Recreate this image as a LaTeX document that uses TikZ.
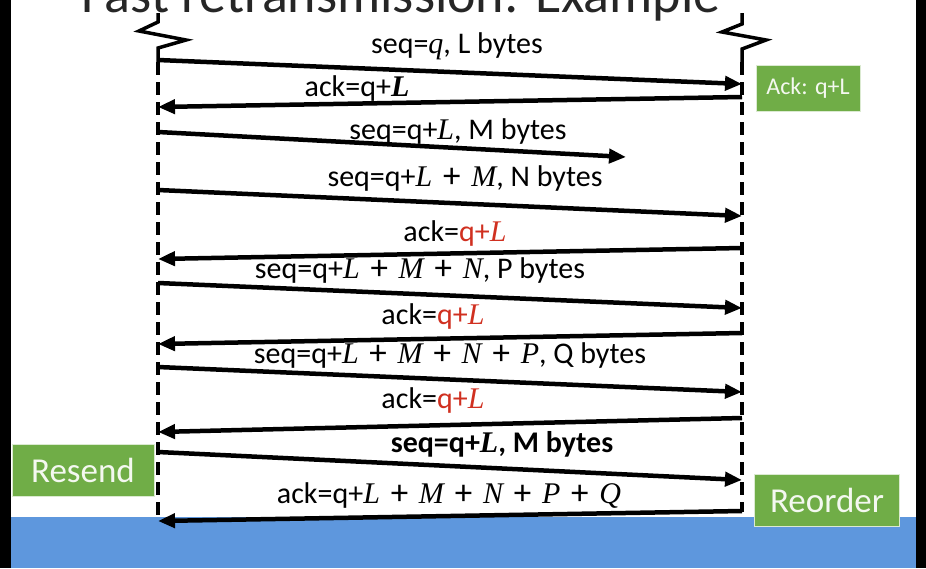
\documentclass[tikz,border=0pt]{standalone}
\usepackage{fontspec}
\setmainfont{Carlito}
\newfontfamily\camfont{Liberation Serif}
\newcommand\mv[1]{{\camfont\itshape #1}}
\newcommand\mb[1]{{\camfont\bfseries\itshape #1}}
\newcommand\pl{\hspace{0.36em}{\fontsize{35}{35}\selectfont\raisebox{-1pt}{+}}\hspace{0.36em}}
\usetikzlibrary{arrows.meta}
\definecolor{gr}{RGB}{112,173,71}
\definecolor{bl}{RGB}{94,151,221}
\definecolor{rd}{RGB}{208,48,32}
\begin{document}
\begin{tikzpicture}[x=1pt,y=-1pt,
  msg/.style={line width=4.5pt,-{Triangle[length=17pt,width=14pt]}},
  lbl/.style={font=\fontsize{30}{34}\selectfont, inner sep=0pt},
  life/.style={line width=3.5pt, dash pattern=on 13pt off 7pt},
  zig/.style={line width=3.5pt, line join=miter},
  greenbox/.style={fill=gr, draw=white!75!gr, line width=1pt, text=white!92!gr, inner sep=0pt, minimum height=52pt}]
\useasboundingbox (0,0) rectangle (926,568);
\clip (0,0) rectangle (926,568);
\fill[bl] (11,517) rectangle (916,568);
\fill[black] (0,0) rectangle (11,568);
\fill[black] (916,0) rectangle (926,568);
\node[font=\fontsize{54}{60}\selectfont, anchor=base, inner sep=0pt, text=black!85] (title) at (401,12) {Fast retransmission: Example};

% lifelines
\coordinate (Lt) at (158,62); \coordinate (Lb) at (158,518);
\coordinate (Rt) at (742,62); \coordinate (Rb) at (742,512);
\draw[zig] (158,13) -- (158,22) -- (139,31) -- (186,40) -- (158,48) -- (Lt);
\draw[zig] (742,13) -- (742,24) -- (722,32) -- (766,40) -- (742,49) -- (Rt);
\draw[life] (Lt) -- (Lb);
\draw[life] (Rt) -- (Rb);

% message endpoints
\coordinate (s1) at (158,60);  \coordinate (e1) at (742,84);
\coordinate (s2) at (742,97);  \coordinate (e2) at (158,107);
\coordinate (s3) at (158,132); \coordinate (e3) at (626,157);
\coordinate (s4) at (158,190); \coordinate (e4) at (742,216);
\coordinate (s5) at (742,248); \coordinate (e5) at (158,259);
\coordinate (s6) at (158,283); \coordinate (e6) at (742,308);
\coordinate (s7) at (742,333); \coordinate (e7) at (158,344);
\coordinate (s8) at (158,367); \coordinate (e8) at (742,392);
\coordinate (s9) at (742,418); \coordinate (e9) at (158,432);
\coordinate (s10) at (158,452); \coordinate (e10) at (742,480);
\coordinate (s11) at (742,511); \coordinate (e11) at (158,521);

\foreach \i in {1,...,11} { \draw[msg] (s\i) -- (e\i); }

% labels
\node[lbl] (l1) at (457,46) {seq=\mv{q}, L bytes};
\node[lbl] (l2) at (357,88) {ack=q+\mb{L}};
\node[lbl] (l3) at (458,131) {seq=q+\mv{L}, M bytes};
\node[lbl] (l4) at (465,178) {seq=q+\mv{L}\pl\mv{M}, N bytes};
\node[lbl] (l5) at (455,233) {ack=\textcolor{rd}{q+\mv{L}}};
\node[lbl] (l6) at (420,270) {seq=q+\mv{L}\pl\mv{M}\pl\mv{N}, P bytes};
\node[lbl] (l7) at (433,316) {ack=\textcolor{rd}{q+\mv{L}}};
\node[lbl] (l8) at (450,355) {seq=q+\mv{L}\pl\mv{M}\pl\mv{N}\pl\mv{P}, Q bytes};
\node[lbl] (l9) at (433,400) {ack=\textcolor{rd}{q+\mv{L}}};
\node[lbl] (l10) at (502,444) {\bfseries seq=q+\mb{L}, M bytes};
\node[lbl] (l11) at (449,496) {ack=q+\mv{L}\pl\mv{M}\pl\mv{N}\pl\mv{P}\pl\mv{Q}};

% green boxes
\node[greenbox, minimum width=104pt, minimum height=46pt, font=\fontsize{24}{28}\selectfont] (ack) at (808,88) {Ack: q+L};
\node[greenbox, minimum width=142pt, font=\fontsize{35}{40}\selectfont] (resend) at (83,470) {Resend};
\node[greenbox, minimum width=145pt, font=\fontsize{35}{40}\selectfont] (reorder) at (827,500) {Reorder};
\end{tikzpicture}
\end{document}
